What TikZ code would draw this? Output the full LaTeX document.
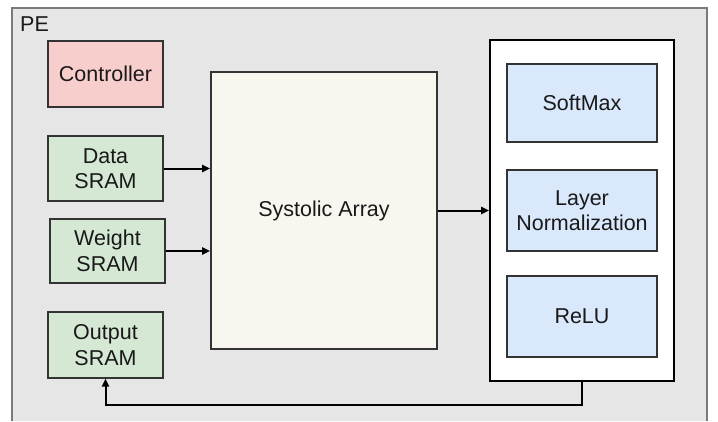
\documentclass[tikz,border=0pt]{standalone}
\usepackage{fontspec}
\setmainfont{Liberation Sans}
\usetikzlibrary{arrows.meta,calc}

\definecolor{peFill}{HTML}{E6E6E6}
\definecolor{peLine}{HTML}{7A7A7A}
\definecolor{ctrlFill}{HTML}{F8CECC}
\definecolor{sramFill}{HTML}{D5E8D4}
\definecolor{fnFill}{HTML}{DAE8FC}
\definecolor{arrFill}{HTML}{F9F6EF}
\definecolor{boxLine}{HTML}{333333}

\tikzset{
  lbl/.style={font=\fontsize{21.5}{25.5}\selectfont, text=black!90, align=center},
  blk/.style={lbl, draw=boxLine, line width=1.1pt, inner sep=0pt},
  ctrlbox/.style={blk, fill=ctrlFill},
  srambox/.style={blk, fill=sramFill},
  fnbox/.style={blk, fill=fnFill},
  wire/.style={line width=2pt, draw=black, -{Triangle[length=8pt,width=7pt]}},
}

\begin{document}
\begin{tikzpicture}[x=1pt,y=-1pt]
  \useasboundingbox (0,0) rectangle (718,421);
  \fill[white] (0,0) rectangle (718,421);

  % processing element enclosure (open towards the bottom edge)
  \fill[peFill] (12,8) rectangle (707,421);
  \draw[peLine, line width=1.6pt] (12,421) -- (12,8) -- (707,8) -- (707,421);
  \node[lbl, anchor=north west, inner sep=0pt] (pe) at (20,17) {PE};

  % left column
  \node[ctrlbox, minimum width=115pt, minimum height=66pt] (controller) at (105.5,74) {Controller};
  \node[srambox, minimum width=115pt, minimum height=65pt] (data) at (105.5,168.5) {Data\\SRAM};
  \node[srambox, minimum width=115pt, minimum height=64pt] (weight) at (107.5,251) {Weight\\SRAM};
  \node[srambox, minimum width=115pt, minimum height=66pt] (output) at (105.5,345) {Output\\SRAM};

  % systolic array
  \node[blk, fill=arrFill, line width=1.6pt, minimum width=226pt, minimum height=277pt] (systolic) at (324,210.5) {Systolic Array};

  % post-processing units
  \node[draw=black, fill=white, line width=1.6pt, minimum width=184pt, minimum height=341pt, inner sep=0pt] (post) at (582,210.5) {};
  \node[fnbox, minimum width=150pt, minimum height=78pt] (softmax) at (582,103) {SoftMax};
  \node[fnbox, minimum width=150pt, minimum height=81pt] (layernorm) at (582,210.5) {Layer\\Normalization};
  \node[fnbox, minimum width=150pt, minimum height=81pt] (relu) at (582,316.5) {ReLU};

  % data paths
  \draw[wire] (data.east) -- (data.east -| systolic.west);
  \draw[wire] (weight.east) -- (weight.east -| systolic.west);
  \draw[wire] (systolic.east) -- (post.west);
  \draw[wire] (post.south) -- ++(0,23) -| (output.south);
\end{tikzpicture}
\end{document}
